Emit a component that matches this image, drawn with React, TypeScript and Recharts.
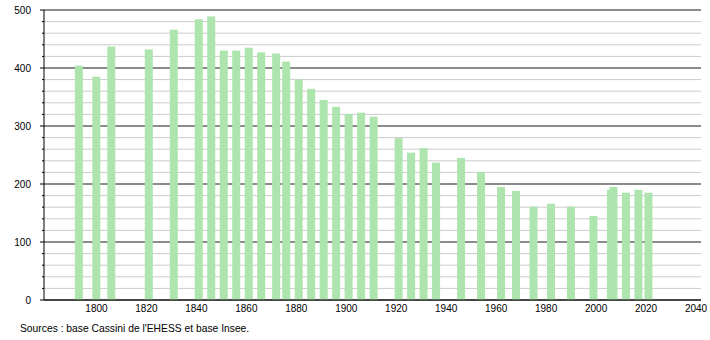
import { BarChart, Bar, XAxis, YAxis, CartesianGrid } from "recharts";

// années de recensement
const years = [
  1793, 1800, 1806, 1821, 1831, 1841, 1846, 1851, 1856, 1861, 1866, 1872,
  1876, 1881, 1886, 1891, 1896, 1901, 1906, 1911, 1921, 1926, 1931, 1936,
  1946, 1954, 1962, 1968, 1975, 1982, 1990, 1999, 2006, 2007, 2012, 2017,
  2021,
];

// population
const population = [
  404, 385, 437, 432, 466, 484, 489, 430, 430, 435, 427, 425,
  411, 380, 364, 345, 333, 321, 323, 316, 279, 254, 262, 237,
  245, 221, 195, 188, 161, 166, 161, 145, 190, 195, 185, 190,
  185,
];

const xTicks = [1800, 1820, 1840, 1860, 1880, 1900, 1920, 1940, 1960, 1980, 2000, 2020, 2040];
const yMajorTicks = [0, 100, 200, 300, 400, 500];
const yMinorTicks = [
  0, 20, 40, 60, 80, 100, 120, 140, 160, 180, 200, 220, 240, 260, 280, 300,
  320, 340, 360, 380, 400, 420, 440, 460, 480, 500,
];

const source = "Sources : base Cassini de l'EHESS et base Insee.";

const data = years.map((year, i) => ({ year, pop: population[i] }));

const BAR_COLOR = "#aee4ae";
const FONT = "'Liberation Sans', Arial, sans-serif";

const YTick = (props: any) => {
  const { x, y, payload } = props;
  const major = payload.value % 100 === 0;
  return (
    <g>
      <line x1={x - (major ? 4 : 2)} x2={x} y1={y} y2={y} stroke="#000" strokeWidth={1} />
      {major && (
        <text x={x - 13} y={y} dy="0.35em" textAnchor="end" fontSize={10} fill="#000" fontFamily={FONT}>
          {payload.value}
        </text>
      )}
    </g>
  );
};

const BarShape = (props: any) => {
  const { x, y, width, height } = props;
  if (!height || height <= 0) return null;
  const cx = x + width / 2;
  return <rect x={cx - 4} y={y} width={8} height={height} fill={BAR_COLOR} />;
};

export default function App() {
  return (
    <div style={{ position: "absolute", left: 0, top: 0, width: 710, height: 340, background: "#fff" }}>
      <BarChart
        width={710}
        height={340}
        data={data}
        margin={{ top: 10, right: 9, left: 0, bottom: 20 }}
      >
        <CartesianGrid vertical={false} horizontalValues={yMinorTicks} stroke="#cccccc" />
        <CartesianGrid vertical={false} horizontalValues={yMajorTicks} stroke="#333333" />
        <XAxis
          dataKey="year"
          type="number"
          domain={[1779, 2042]}
          ticks={xTicks}
          interval={0}
          tickLine={false}
          tickSize={0}
          tickMargin={5}
          height={20}
          axisLine={{ stroke: "#000" }}
          tick={{ fontSize: 10, fill: "#000", fontFamily: FONT }}
        />
        <YAxis
          type="number"
          domain={[0, 500]}
          ticks={yMinorTicks}
          interval={0}
          width={44}
          tickLine={false}
          tickSize={0}
          tickMargin={0}
          axisLine={{ stroke: "#000" }}
          tick={<YTick />}
        />
        <Bar dataKey="pop" fill={BAR_COLOR} barSize={8} shape={<BarShape />} isAnimationActive={false} />
      </BarChart>
      <div
        style={{
          position: "absolute",
          left: 20,
          top: 323,
          fontSize: 10.3,
          fontFamily: FONT,
          color: "#000",
          whiteSpace: "nowrap",
        }}
      >
        {source}
      </div>
    </div>
  );
}
